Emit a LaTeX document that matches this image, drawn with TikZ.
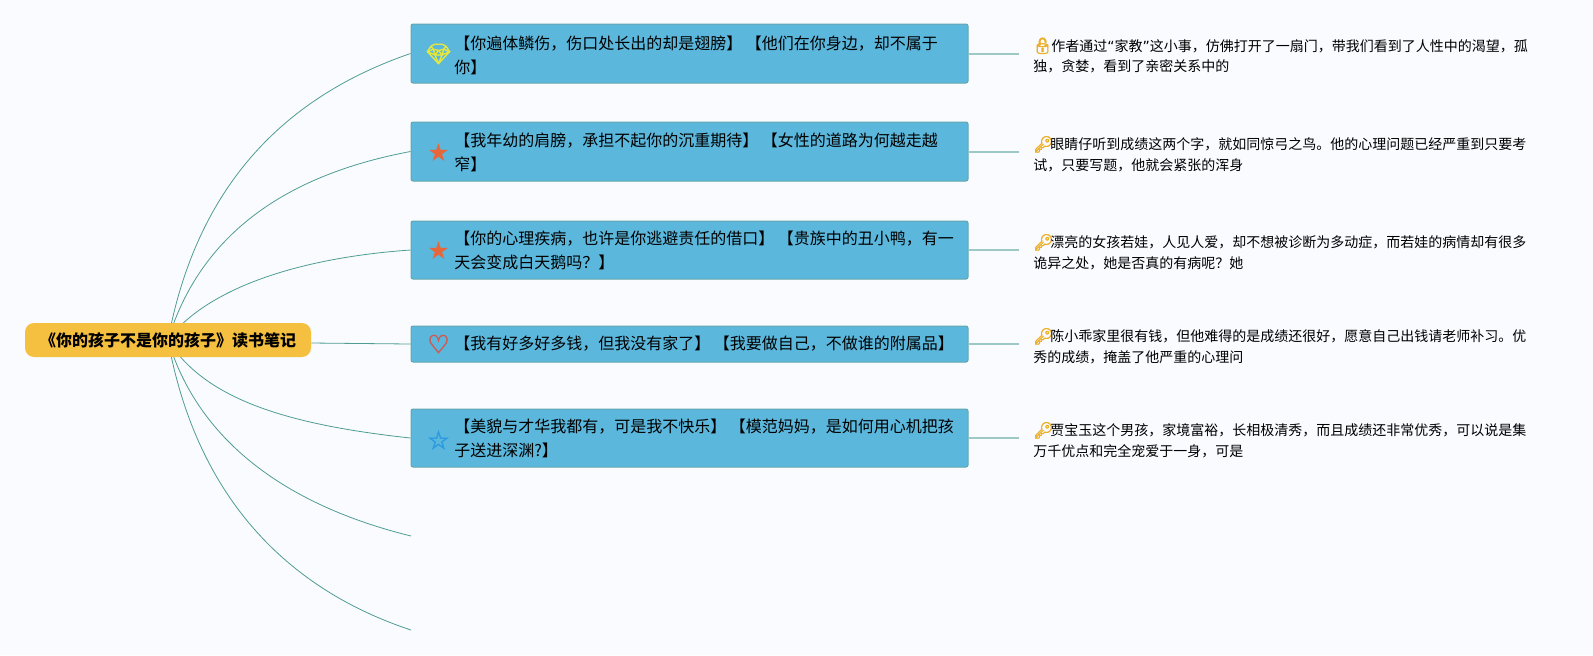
\documentclass[tikz,border=0pt]{standalone}
\usepackage{fontspec}
\setmainfont{Noto Sans CJK SC}
\newfontfamily\emojifont[FakeBold=3]{Noto Emoji}
\newfontfamily\symbfont{DejaVu Sans}
\newfontfamily\thicksymbfont[FakeBold=2.5]{DejaVu Sans}
\definecolor{pagebg}{HTML}{F9FBFF}
\definecolor{boxblue}{HTML}{5BB7DC}
\definecolor{boxedge}{HTML}{62A7AE}
\definecolor{rootgold}{HTML}{F5C040}
\definecolor{branchteal}{HTML}{4F9C93}
\definecolor{noteteal}{HTML}{9CC8C6}
\definecolor{keygold}{HTML}{EDB02A}
\definecolor{gemyellow}{HTML}{E2E640}
\definecolor{starorange}{HTML}{E8673A}
\definecolor{heartred}{HTML}{CF5A54}
\definecolor{starblue}{HTML}{2E9BE0}
\newcommand{\keyicon}{\makebox[8.5pt][l]{\color{keygold}\emojifont\fontsize{8}{10}\selectfont 🔑}}
\newcommand{\lockicon}{\makebox[9pt][l]{\hspace{-0.5pt}\color{keygold}\emojifont\fontsize{8}{10}\selectfont 🔓}}
\tikzset{
    rootbox/.style={draw=none, fill=rootgold, rounded corners=4.5pt, minimum width=143pt, minimum height=17pt, inner sep=0pt, font=\fontsize{8}{10}\selectfont\bfseries},
    notebox/.style={draw=boxedge, line width=0.5pt, fill=boxblue, rounded corners=1pt, minimum width=278.5pt, inner sep=0pt},
    boxtext/.style={anchor=west, align=left, inner sep=0pt, font=\fontsize{8}{12}\selectfont},
    notetext/.style={anchor=west, align=left, inner sep=0pt, font=\fontsize{7}{10.25}\selectfont},
    icon/.style={inner sep=0pt},
    branch/.style={draw=branchteal, line width=0.4pt},
    noteline/.style={draw=noteteal, line width=1pt}
}
\begin{document}
\begin{tikzpicture}[x=0.5pt, y=-0.5pt]
    \useasboundingbox (0,0) rectangle (1593,655);
    \fill[pagebg] (0,0) rectangle (1593,655);

    % Curve origin and free ends
    \coordinate (rootc) at (168,340);
    \coordinate (ende) at (411,536);
    \coordinate (endf) at (411,630);

    % Blue boxes
    \node[notebox, minimum height=29.5pt] (boxa) at (689.5,53.5) {};
    \node[notebox, minimum height=29.5pt] (boxb) at (689.5,151.5) {};
    \node[notebox, minimum height=29pt] (boxc) at (689.5,250) {};
    \node[notebox, minimum height=18pt] (boxd) at (689.5,344) {};
    \node[notebox, minimum height=29pt] (boxe) at (689.5,438) {};

    % Icons
    \node[icon, text=gemyellow, font=\emojifont\fontsize{10}{12}\selectfont] (icona) at (438.5,54) {💎};
    \node[icon, text=starorange, font=\symbfont\fontsize{12.5}{12}\selectfont] (iconb) at (438.5,153) {★};
    \node[icon, text=starorange, font=\symbfont\fontsize{12.5}{12}\selectfont] (iconc) at (438.5,251) {★};
    \node[icon, text=heartred, font=\thicksymbfont\fontsize{12.5}{12}\selectfont] (icond) at (438.5,344) {♡};
    \node[icon, text=starblue, font=\thicksymbfont\fontsize{12.5}{12}\selectfont] (icone) at (438.5,440) {☆};

    % Box texts
    \node[boxtext] (texta) at (454,55.5) {【你遍体鳞伤，伤口处长出的却是翅膀】 【他们在你身边，却不属于\\你】};
    \node[boxtext] (textb) at (454,152) {【我年幼的肩膀，承担不起你的沉重期待】 【女性的道路为何越走越\\窄】};
    \node[boxtext] (textc) at (454,250.5) {【你的心理疾病，也许是你逃避责任的借口】 【贵族中的丑小鸭，有一\\天会变成白天鹅吗？】};
    \node[boxtext] (textd) at (454,344) {【我有好多好多钱，但我没有家了】 【我要做自己，不做谁的附属品】};
    \node[boxtext] (texte) at (454,438) {【美貌与才华我都有，可是我不快乐】 【模范妈妈，是如何用心机把孩\\子送进深渊?】};

    % Right notes
    \node[notetext] (notea) at (1033,55.5) {\lockicon 作者通过{\symbfont“}家教{\symbfont”}这小事，仿佛打开了一扇门，带我们看到了人性中的渴望，孤\\独，贪婪，看到了亲密关系中的};
    \node[notetext] (noteb) at (1033,154) {\keyicon 眼睛仔听到成绩这两个字，就如同惊弓之鸟。他的心理问题已经严重到只要考\\试，只要写题，他就会紧张的浑身};
    \node[notetext] (notec) at (1033,252) {\keyicon 漂亮的女孩若娃，人见人爱，却不想被诊断为多动症，而若娃的病情却有很多\\诡异之处，她是否真的有病呢？她};
    \node[notetext] (noted) at (1033,346) {\keyicon 陈小乖家里很有钱，但他难得的是成绩还很好，愿意自己出钱请老师补习。优\\秀的成绩，掩盖了他严重的心理问};
    \node[notetext] (notee) at (1033,440) {\keyicon 贾宝玉这个男孩，家境富裕，长相极清秀，而且成绩还非常优秀，可以说是集\\万千优点和完全宠爱于一身，可是};

    % Curves from the root
    \draw[branch] (rootc) .. controls (198,180) and (290,95) .. (boxa.west);
    \draw[branch] (rootc) .. controls (200,235) and (285,175) .. (boxb.west);
    \draw[branch] (rootc) .. controls (205,290) and (295,258) .. (boxc.west);
    \draw[branch] (rootc) .. controls (205,400) and (290,425) .. (boxe.west);
    \draw[branch] (rootc) .. controls (198,440) and (285,505) .. (ende);
    \draw[branch] (rootc) .. controls (197,500) and (290,590) .. (endf);

    % Root
    \node[rootbox] (root) at (168,340) {《你的孩子不是你的孩子》读书笔记};
    \draw[branch] ([yshift=-1.5pt]root.east) -- (boxd.west);

    % Box to note
    \draw[noteline] (boxa.east) -- ++(50,0) coordinate (linea);
    \draw[noteline] (boxb.east) -- ++(50,0) coordinate (lineb);
    \draw[noteline] (boxc.east) -- ++(50,0) coordinate (linec);
    \draw[noteline] (boxd.east) -- ++(50,0) coordinate (lined);
    \draw[noteline] (boxe.east) -- ++(50,0) coordinate (linee);
\end{tikzpicture}
\end{document}
